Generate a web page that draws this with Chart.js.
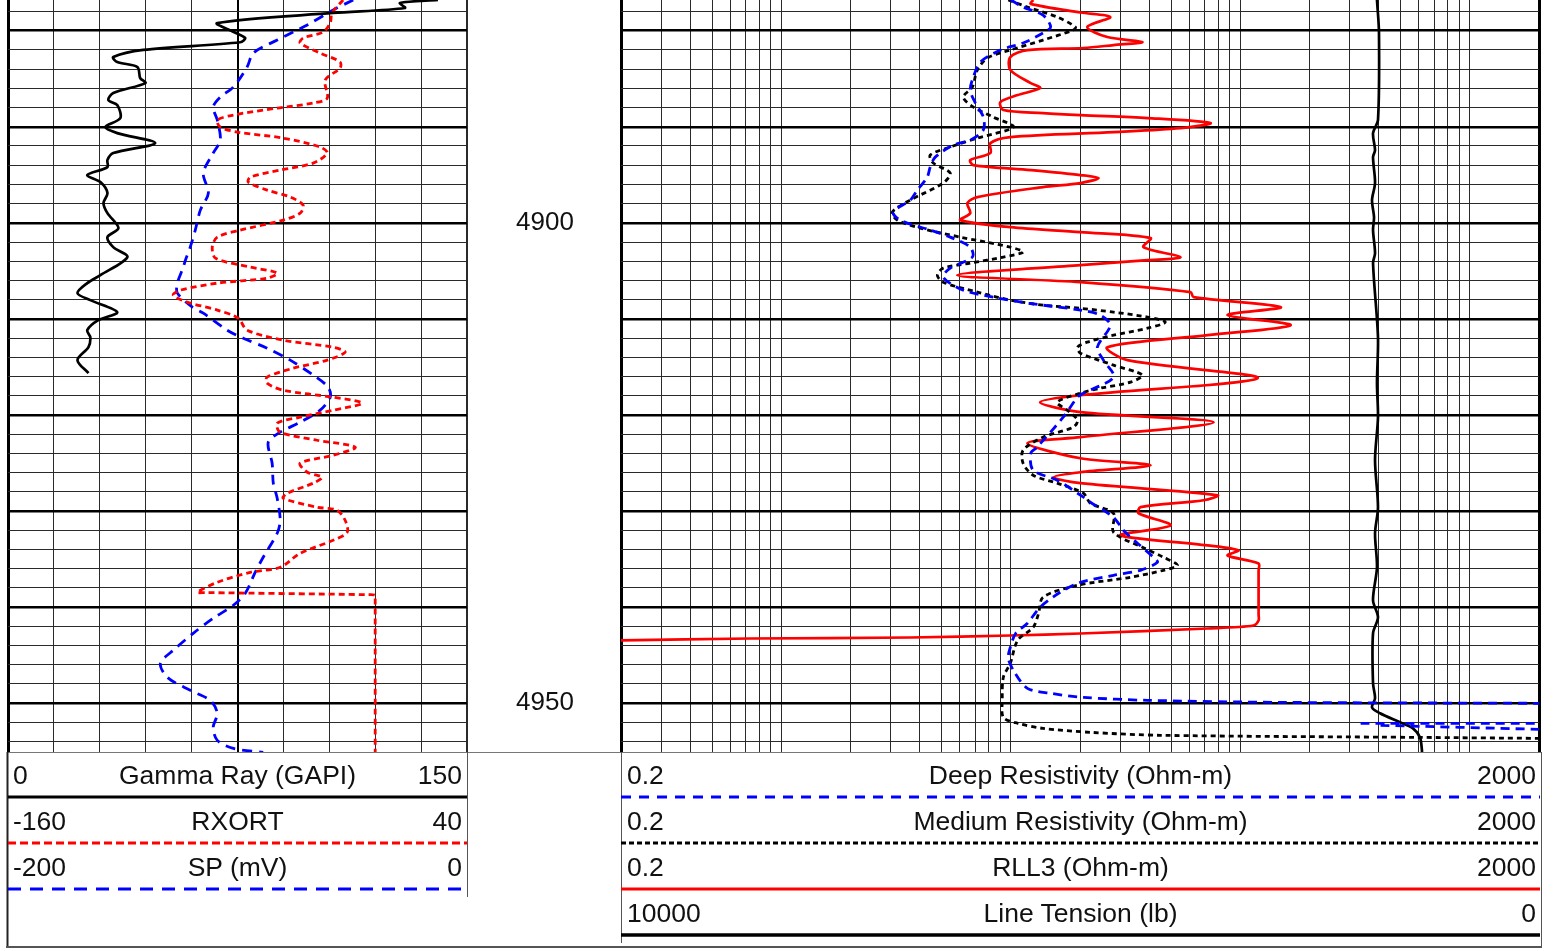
<!DOCTYPE html>
<html>
<head>
<meta charset="utf-8">
<title>Well log</title>
<script src="https://cdn.jsdelivr.net/npm/chart.js@4.4.1/dist/chart.umd.min.js"></script>
<style>
    body { margin: 0; background: #fff; font-family: "Liberation Sans", Arial, sans-serif; }
    #page { position: relative; width: 1554px; height: 951px; overflow: hidden; background: #fff; }
    canvas { position: absolute; top: 0; }
    #leftTrack { left: 0; }
    #rightTrack { left: 610px; }
    .row { position: absolute; height: 30px; line-height: 30px; font-size: 26.5px; color: #111; white-space: nowrap; }
    .row .l { position: absolute; left: 5px; }
    .row .c { position: absolute; left: 0; right: 0; text-align: center; }
    .row .r { position: absolute; right: 5px; }
    .lt { left: 8px; width: 459px; }
    .rt { left: 621px; width: 919px; }
    .rt .l { left: 6px; }
    .rt .r { right: 4px; }
    svg { position: absolute; left: 0; top: 0; pointer-events: none; }
</style>
</head>
<body>
<div id="page">
    <canvas id="leftTrack" width="621" height="752"></canvas>
    <canvas id="rightTrack" width="940" height="752"></canvas>

    <svg width="1554" height="951">
        <line x1="7" y1="752.5" x2="1541" y2="752.5" stroke="#777" stroke-width="1"/>
        <line x1="7.5" y1="752" x2="7.5" y2="948" stroke="#222" stroke-width="2"/>
        <line x1="6" y1="947" x2="1542" y2="947" stroke="#555" stroke-width="2"/>
        <line x1="1541.5" y1="752" x2="1541.5" y2="948" stroke="#555" stroke-width="1"/>

        <line x1="467.5" y1="752" x2="467.5" y2="897" stroke="#555" stroke-width="1"/>
        <line x1="8" y1="797" x2="467" y2="797" stroke="#000" stroke-width="3"/>
        <line x1="8" y1="843" x2="467" y2="843" stroke="#ff0000" stroke-width="3" stroke-dasharray="8 4"/>
        <line x1="8" y1="889" x2="467" y2="889" stroke="#0000ff" stroke-width="3" stroke-dasharray="13 9"/>

        <line x1="621.5" y1="752" x2="621.5" y2="943" stroke="#555" stroke-width="1"/>
        <line x1="621" y1="797" x2="1540" y2="797" stroke="#0000ff" stroke-width="3" stroke-dasharray="10 8"/>
        <line x1="621" y1="843" x2="1540" y2="843" stroke="#000" stroke-width="3" stroke-dasharray="5 3"/>
        <line x1="621" y1="889" x2="1540" y2="889" stroke="#ff0000" stroke-width="3"/>
        <line x1="621" y1="935" x2="1540" y2="935" stroke="#000" stroke-width="3.5"/>
    </svg>

    <div class="row lt" style="top:760px"><span class="l">0</span><span class="c">Gamma Ray (GAPI)</span><span class="r">150</span></div>
    <div class="row lt" style="top:806px"><span class="l">-160</span><span class="c">RXORT</span><span class="r">40</span></div>
    <div class="row lt" style="top:852px"><span class="l">-200</span><span class="c">SP (mV)</span><span class="r">0</span></div>

    <div class="row rt" style="top:760px"><span class="l">0.2</span><span class="c">Deep Resistivity (Ohm-m)</span><span class="r">2000</span></div>
    <div class="row rt" style="top:806px"><span class="l">0.2</span><span class="c">Medium Resistivity (Ohm-m)</span><span class="r">2000</span></div>
    <div class="row rt" style="top:852px"><span class="l">0.2</span><span class="c">RLL3 (Ohm-m)</span><span class="r">2000</span></div>
    <div class="row rt" style="top:898px"><span class="l">10000</span><span class="c">Line Tension (lb)</span><span class="r">0</span></div>
</div>

<script>
// [depth ft, value]
const gammaRay = [
    [4876.8, 140.5], [4877.11, 128.1], [4877.63, 129.7], [4878.15, 106.2], [4879.2, 68.4],
    [4880.1, 73.6], [4880.76, 77.5], [4881.2, 75.9], [4882.0, 44.2], [4882.74, 34.4],
    [4883.26, 35.7], [4883.78, 42.3], [4884.93, 43.2], [4885.45, 44.9], [4886.49, 34.4],
    [4887.22, 32.8], [4887.74, 35.7], [4889.1, 36.7], [4890.03, 31.8], [4890.66, 35.7],
    [4891.7, 48.1], [4892.74, 34.4], [4893.47, 32.5], [4894.2, 32.5], [4895.03, 25.9],
    [4895.76, 30.2], [4896.9, 32.5], [4897.95, 31.2], [4898.99, 32.5], [4900.55, 36.1],
    [4901.49, 32.5], [4902.53, 34.4], [4903.57, 39.0], [4905.45, 30.2], [4906.28, 25.9],
    [4907.32, 22.7], [4908.05, 26.9], [4909.3, 35.7], [4910.14, 29.5], [4911.18, 25.9],
    [4911.91, 26.9], [4912.95, 26.3], [4914.3, 22.7], [4915.66, 26.3]
];

const rxort = [
    [4876.8, -14], [4878.15, -18.8], [4879.2, -19.6], [4880.13, -22.7], [4880.76, -31.4],
    [4881.28, -32.7], [4882.32, -24.0], [4883.26, -15.3], [4883.89, -15.3], [4885.14, -21.8],
    [4887.01, -20.9], [4887.53, -27.0], [4888.05, -42.7], [4888.78, -61.8], [4889.3, -68.8],
    [4890.03, -67.5], [4890.55, -60.1], [4891.18, -40.1], [4892.11, -24.0], [4892.74, -20.9],
    [4893.78, -27.0], [4894.51, -41.4], [4895.24, -54.4], [4895.76, -55.3], [4896.59, -47.1],
    [4897.32, -37.0], [4898.16, -31.4], [4898.99, -32.7], [4899.72, -40.1], [4900.76, -58.8],
    [4901.49, -68.8], [4902.53, -71.0], [4903.7, -69.5], [4904.61, -54.4], [4905.24, -42.7],
    [4905.76, -47.1], [4906.28, -68.8], [4907.01, -84.9], [4907.53, -88.0], [4908.26, -81.9],
    [4909.09, -68.8], [4909.93, -59.7], [4911.18, -55.8], [4912.22, -40.1], [4912.95, -18.3],
    [4913.47, -13.1], [4914.3, -20.9], [4915.14, -35.7], [4916.07, -47.1], [4916.7, -47.1],
    [4917.43, -40.1], [4918.16, -18.3], [4918.78, -5.7], [4919.51, -18.3], [4920.24, -32.7],
    [4920.86, -42.7], [4921.8, -41.4], [4922.64, -25.3], [4923.36, -8.7], [4924.2, -18.3],
    [4925.03, -32.7], [4925.97, -29.6], [4926.49, -23.1], [4927.11, -27.0], [4928.16, -38.3],
    [4928.68, -40.1], [4929.61, -25.3], [4929.93, -16.6], [4930.97, -13.1], [4932.22, -12.2],
    [4933.05, -18.3], [4934.41, -32.7], [4935.87, -41.4], [4936.39, -54.4], [4937.43, -68.8],
    [4938.47, -77.5], [4938.5, -74], [4938.72, -3], [4938.78, 0], [4939.2, 0], [4955.1, 0]
];

const sp = [
    [4876.8, -49.6], [4877.84, -58.3], [4879.4, -69.6], [4880.97, -82.7], [4882.32, -93.1],
    [4883.78, -95.8], [4885.86, -101.8], [4886.91, -107.5], [4887.95, -110.6], [4889.3, -108.8],
    [4891.39, -107.5], [4892.74, -110.6], [4894.82, -114.9], [4896.9, -112.7], [4898.68, -116.2],
    [4900.76, -118.4], [4902.53, -120.6], [4903.89, -122.7], [4904.61, -123.6], [4906.28, -126.2],
    [4907.32, -126.2], [4908.78, -119.7], [4909.41, -114.9], [4911.18, -104.5], [4912.01, -97.5],
    [4913.05, -87.1], [4914.3, -77.0], [4915.86, -67.0], [4917.11, -60.5], [4918.16, -59.6],
    [4919.51, -64.0], [4920.76, -72.7], [4921.8, -81.4], [4922.84, -86.6], [4925.03, -84.9],
    [4927.11, -84.4], [4928.68, -82.7], [4930.97, -81.4], [4932.32, -82.7], [4934.82, -88.8],
    [4936.39, -92.3], [4938.57, -96.6], [4939.82, -101.8], [4941.18, -110.6], [4942.74, -119.3],
    [4944.51, -128.0], [4945.86, -133.6], [4947.32, -130.6], [4948.68, -120.6], [4949.72, -111.9],
    [4951.07, -108.8], [4952.53, -110.6], [4953.89, -108.8], [4954.72, -101.8], [4955.14, -88.8]
];

const deepRes = [
    [4876.8, 10.0], [4877.53, 11.3], [4878.38, 13.8], [4879.61, 14.9], [4880.24, 13.8],
    [4881.28, 11.3], [4882.01, 9.0], [4883.26, 7.36], [4884.82, 6.86], [4886.18, 6.65],
    [4887.53, 7.0], [4888.99, 7.58], [4890.34, 7.58], [4891.39, 6.65], [4891.91, 5.61],
    [4893.16, 4.68], [4894.2, 4.45], [4895.24, 4.32], [4896.59, 3.91], [4897.64, 3.64],
    [4898.89, 3.07], [4899.72, 3.29], [4900.76, 4.45], [4901.49, 5.44], [4902.53, 6.65],
    [4903.57, 6.79], [4904.72, 5.44], [4905.66, 5.07], [4907.01, 6.2], [4907.74, 8.38],
    [4908.36, 11.8], [4909.09, 20.1], [4909.61, 24.5], [4910.66, 27.1], [4912.95, 23.8],
    [4914.3, 25.3], [4916.07, 28.0], [4917.74, 20.7], [4918.16, 19.5], [4920.24, 16.9],
    [4923.36, 13.0], [4923.99, 12.2], [4925.76, 12.5], [4926.8, 15.9], [4928.57, 20.7],
    [4928.89, 21.5], [4930.66, 28.0], [4932.01, 30.9], [4933.36, 35.6], [4934.82, 41.8],
    [4935.34, 43.5], [4936.18, 36.7], [4936.7, 28.0], [4937.43, 20.1], [4938.47, 16.4],
    [4940.03, 13.4], [4941.7, 11.8], [4942.74, 10.5], [4944.2, 9.94], [4945.34, 9.74],
    [4946.59, 10.25], [4948.47, 11.8], [4948.99, 14.9], [4949.41, 20.7], [4949.72, 39.4],
    [4949.93, 150], [4950.03, 2000], [4950.5, null],
    [4952.11, 334], [4952.11, 2000], [4952.2, null],
    [4952.32, 408], [4952.74, 2000]
];

const mediumRes = [
    [4876.8, 9.74], [4877.53, 11.8], [4878.57, 15.9], [4879.61, 19.1], [4879.93, 18.7],
    [4880.97, 13.8], [4882.01, 9.94], [4882.84, 7.9], [4884.09, 7.14], [4885.86, 6.79],
    [4886.91, 6.2], [4887.95, 6.86], [4888.99, 8.38], [4890.03, 10.25], [4891.18, 7.14],
    [4892.11, 5.44], [4892.95, 4.45], [4893.78, 4.59], [4894.82, 5.44], [4895.86, 5.07],
    [4897.64, 3.64], [4898.89, 3.04], [4899.72, 3.2], [4900.55, 4.03], [4901.49, 6.02],
    [4902.53, 9.94], [4903.05, 11.3], [4903.57, 9.27], [4904.2, 6.65], [4904.72, 5.07],
    [4905.45, 4.78], [4906.18, 5.07], [4907.22, 7.14], [4908.05, 9.94], [4908.57, 13.8],
    [4908.9, 20.1], [4909.3, 28.0], [4909.82, 39.4], [4910.34, 47.1], [4910.97, 39.4],
    [4911.7, 28.0], [4912.43, 21.5], [4912.95, 19.5], [4913.57, 20.1], [4914.82, 28.0],
    [4915.86, 37.4], [4916.59, 33.2], [4917.22, 24.5], [4917.74, 20.1], [4918.68, 15.9],
    [4919.51, 17.6], [4920.55, 19.5], [4921.28, 18.7], [4922.32, 13.8], [4923.68, 11.3],
    [4925.03, 11.3], [4926.28, 12.5], [4927.11, 15.9], [4928.16, 20.7], [4929.2, 22.2],
    [4930.26, 28.0], [4932.22, 28.0], [4933.78, 37.4], [4934.82, 46.2], [4935.66, 53.2],
    [4936.18, 46.2], [4936.91, 33.2], [4937.74, 19.5], [4938.99, 13.8], [4940.66, 13.2],
    [4942.12, 12.5], [4943.47, 10.7], [4945.86, 9.94], [4947.32, 9.27], [4949.72, 9.17],
    [4951.49, 9.27], [4952.11, 10.7], [4952.64, 13.8], [4953.05, 22.2], [4953.36, 44.8],
    [4953.58, 610], [4953.68, 2000]
];

const rll3 = [
    [4876.8, 12.5], [4877.2, 12.2], [4878.1, 20.1], [4878.57, 27.1], [4879.61, 21.5],
    [4880.66, 26.3], [4881.18, 37.4], [4881.49, 28.0], [4881.8, 20.7], [4882.01, 11.8],
    [4882.74, 9.94], [4884.09, 9.94], [4885.45, 12.2], [4885.97, 13.4], [4886.7, 10.7],
    [4887.43, 9.0], [4888.26, 9.27], [4888.57, 13.8], [4888.78, 20.1], [4889.09, 39.4],
    [4889.61, 74.1], [4890.14, 54.8], [4890.55, 28.0], [4891.07, 9.94], [4891.7, 8.14],
    [4892.74, 8.14], [4893.47, 6.65], [4893.99, 6.86], [4894.51, 12.2], [4895.03, 20.1],
    [4895.34, 24.1], [4895.86, 20.1], [4896.28, 13.8], [4897.32, 7.14], [4897.95, 6.46],
    [4898.99, 6.65], [4899.72, 6.02], [4900.45, 9.94], [4900.97, 20.1], [4901.59, 40.6],
    [4902.53, 37.8], [4903.57, 54.8], [4903.89, 39.4], [4904.41, 20.1], [4905.45, 5.84],
    [4906.18, 20.1], [4907.22, 60.6], [4907.74, 62.5], [4908.78, 150], [4909.61, 87.9],
    [4910.66, 165.5], [4911.7, 71.9], [4912.95, 26.3], [4914.3, 32.2], [4916.18, 118.8],
    [4917.95, 20.1], [4918.68, 13.4], [4919.72, 20.1], [4920.76, 76.4], [4922.32, 20.1],
    [4922.95, 11.8], [4924.51, 20.1], [4925.24, 40.6], [4925.97, 20.1], [4926.49, 15.3],
    [4927.11, 20.1], [4928.37, 79.5], [4928.89, 69.1], [4929.61, 36.7], [4930.24, 36.0],
    [4931.51, 49.6], [4932.53, 30.0], [4933.59, 71.9], [4934.11, 98.1], [4934.64, 87.9],
    [4935.47, 120], [4936.2, 120], [4940.8, 120], [4941.41, 120], [4941.93, 114],
    [4942.24, 71.9], [4942.76, 20.1], [4942.97, 9.94], [4943.18, 3.64], [4943.28, 0.73],
    [4943.47, 0.2]
];

const lineTension = [
    [4876.8, 1765], [4880.24, 1743], [4889.3, 1754], [4890.66, 1808], [4892.43, 1786],
    [4893.16, 1808], [4895.86, 1786], [4897.64, 1819], [4899.41, 1797], [4900.76, 1808],
    [4903.16, 1786], [4904.2, 1808], [4911.91, 1754], [4916.7, 1765], [4920.24, 1754],
    [4924.72, 1786], [4929.61, 1754], [4932.32, 1786], [4935.87, 1765], [4939.3, 1808],
    [4941.07, 1754], [4942.74, 1808], [4947.95, 1808], [4949.51, 1786], [4950.45, 1819],
    [4951.07, 1732], [4952.01, 1514], [4952.64, 1373], [4953.58, 1296], [4954.93, 1275],
    [4955.1, 1275]
];

const depthLabels = [4900, 4950];

const depthTop = 4876.8;
const depthBottom = 4955.1;

Chart.defaults.font.family = '"Liberation Sans", Arial, sans-serif';

function toPoints(rows) {
    return rows.map(r => ({ x: r[1], y: r[0] }));
}

function curve(rows, axis, color, dash) {
    return {
        data: toPoints(rows),
        xAxisID: axis,
        yAxisID: "y",
        borderColor: color,
        borderWidth: dash.length ? 2.8 : 2.7,
        borderDash: dash,
        pointRadius: 0,
        fill: false,
        tension: 0.3
    };
}

function depthGrid(scale) {
    const ticks = [];
    for (let d = 4878; d <= 4954; d += 2) ticks.push({ value: d });
    scale.ticks = ticks;
}

function logGrid(scale) {
    const ticks = [];
    for (let e = -1; e <= 3; e++) {
        for (let m = 1; m <= 9; m++) {
            const v = m * Math.pow(10, e);
            if (v >= 0.2 - 1e-9 && v <= 2000 + 1e-9) ticks.push({ value: v });
        }
    }
    scale.ticks = ticks;
}

function depthAxis(leftWidth) {
    return {
        type: "linear",
        position: "left",
        reverse: true,
        min: depthTop,
        max: depthBottom,
        afterBuildTicks: depthGrid,
        afterFit: s => { s.width = leftWidth; s.paddingTop = 0; s.paddingBottom = 0; },
        ticks: { display: false, autoSkip: false },
        border: { display: false },
        grid: {
            drawTicks: false,
            color: c => c.tick && c.tick.value % 10 === 0 ? "#000" : "#2a2a2a",
            lineWidth: c => c.tick && c.tick.value % 10 === 0 ? 2.5 : 1
        }
    };
}

function hidden(min, max, reverse) {
    return { type: "linear", axis: "x", position: "bottom", display: false, min, max, reverse: !!reverse };
}

const baseOptions = {
    responsive: false,
    animation: false,
    events: [],
    plugins: { legend: { display: false }, tooltip: { enabled: false } }
};

new Chart(document.getElementById("leftTrack"), {
    type: "line",
    data: {
        datasets: [
            curve(gammaRay, "gr", "#000000", []),
            curve(rxort, "rx", "#ff0000", [6, 4]),
            curve(sp, "sp", "#0000ff", [10, 7])
        ]
    },
    options: {
        ...baseOptions,
        layout: { padding: 0 },
        scales: {
            gr: {
                type: "linear",
                axis: "x",
                position: "bottom",
                min: 0,
                max: 150,
                ticks: { display: false, stepSize: 15, autoSkip: false },
                border: { display: false },
                afterFit: s => { s.height = 0; s.paddingLeft = 0; s.paddingRight = 0; },
                grid: {
                    drawTicks: false,
                    color: c => (c.index === 0 || c.tick.value === 75) ? "#000" : "#2a2a2a",
                    lineWidth: c => c.index === 0 ? 3 : (c.tick.value === 75 || c.tick.value === 150) ? 2 : 1
                }
            },
            rx: hidden(-160, 40),
            sp: hidden(-200, 0),
            y: depthAxis(8),
            d: {
                type: "linear",
                position: "right",
                reverse: true,
                min: depthTop,
                max: depthBottom,
                afterBuildTicks: s => { s.ticks = depthLabels.map(v => ({ value: v })); },
                afterFit: s => { s.width = 154; s.paddingTop = 0; s.paddingBottom = 0; },
                border: { display: false },
                grid: { display: false },
                ticks: {
                    padding: 41,
                    color: "#111",
                    font: { size: 26 },
                    autoSkip: false,
                    callback: v => String(v)
                }
            }
        }
    }
});

new Chart(document.getElementById("rightTrack"), {
    type: "line",
    data: {
        datasets: [
            curve(deepRes, "res", "#0000ff", [9, 6]),
            curve(mediumRes, "res", "#000000", [5, 4]),
            curve(rll3, "res", "#ff0000", []),
            curve(lineTension, "ten", "#000000", [])
        ]
    },
    options: {
        ...baseOptions,
        layout: { padding: { left: 0, right: 11, top: 0, bottom: 0 } },
        scales: {
            res: {
                type: "logarithmic",
                axis: "x",
                position: "bottom",
                min: 0.2,
                max: 2000,
                afterBuildTicks: logGrid,
                ticks: { display: false, autoSkip: false },
                border: { display: false },
                afterFit: s => { s.height = 0; s.paddingLeft = 0; s.paddingRight = 0; },
                grid: {
                    drawTicks: false,
                    color: c => (c.index === 0 || c.tick.value > 1999) ? "#000" : "#2a2a2a",
                    lineWidth: c => (c.index === 0 || c.tick.value > 1999) ? 3 : 1
                }
            },
            ten: hidden(0, 10000, true),
            y: depthAxis(11)
        }
    }
});
</script>
</body>
</html>
